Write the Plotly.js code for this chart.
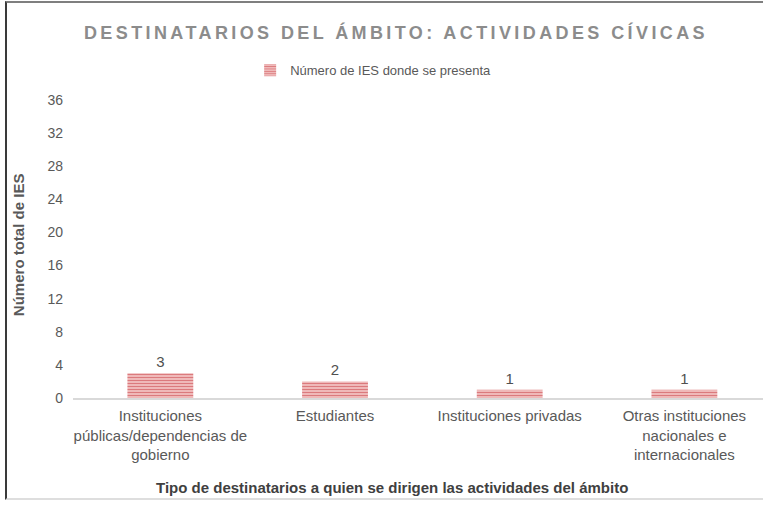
<!DOCTYPE html>
<html>
<head>
<meta charset="utf-8">
<script src="https://cdn.plot.ly/plotly-3.0.1.min.js"></script>
<style>
  html, body { margin: 0; padding: 0; background: #ffffff; overflow: hidden; }
  #frame { position: absolute; left: 5px; top: 1px; width: 758px; height: 495px;
           border-top: 2px solid #7f7f7f; border-left: 2px solid #3a3a3a; border-bottom: 2px solid #dedede; }
  #chart { position: absolute; left: 0; top: 0; width: 763px; height: 506px; }
  .gtitle { letter-spacing: 3.4px; }
</style>
</head>
<body>
<div id="frame"></div>
<div id="chart"></div>
<script>
const categories = [
  "Instituciones<br>públicas/dependencias de<br>gobierno",
  "Estudiantes",
  "Instituciones privadas",
  "Otras instituciones<br>nacionales e<br>internacionales"
];
const values = [3, 2, 1, 1];
const seriesName = "Número de IES donde se presenta";
const yTicks = [0, 4, 8, 12, 16, 20, 24, 28, 32, 36];

const trace = {
  type: "bar",
  x: categories,
  y: values,
  name: seriesName,
  width: 0.377,
  marker: {
    color: "#f2bcbc",
    line: { width: 0 },
    pattern: { shape: "-", fgcolor: "#db7a7d", bgcolor: "#f4c6c6", size: 3, solidity: 0.45 }
  },
  text: values.map(String),
  textposition: "outside",
  textfont: { family: "Liberation Sans, Arial, sans-serif", size: 15, color: "#505050" },
  cliponaxis: false,
  hoverinfo: "none"
};

const layout = {
  width: 763, height: 506,
  margin: { l: 73, r: 0, t: 100, b: 108 },
  paper_bgcolor: "rgba(0,0,0,0)",
  plot_bgcolor: "rgba(0,0,0,0)",
  font: { family: "Liberation Sans, Arial, sans-serif", color: "#595959" },
  title: {
    text: "<b>DESTINATARIOS DEL ÁMBITO: ACTIVIDADES CÍVICAS</b>",
    font: { size: 18, color: "#8c8c8c", family: "Liberation Sans, Arial, sans-serif" },
    x: 0.519, xanchor: "center", xref: "container",
    y: 0.935, yanchor: "middle", yref: "container"
  },
  showlegend: true,
  legend: {
    orientation: "h", x: 0.435, xanchor: "center", y: 1.1, yanchor: "middle",
    font: { size: 13, color: "#595959" }
  },
  xaxis: {
    type: "category",
    range: [-0.5, 3.45],
    showline: true, linecolor: "#d9d9d9", linewidth: 2,
    showgrid: false, zeroline: false, ticks: "",
    tickfont: { size: 15, color: "#595959" },
    ticklabelstandoff: 3
  },
  yaxis: {
    range: [0, 36],
    tickvals: yTicks,
    ticktext: yTicks.map(String),
    showline: false, showgrid: false, zeroline: false, ticks: "",
    tickfont: { size: 14, color: "#595959" },
    ticklabelstandoff: 9
  },
  annotations: [
    {
      text: "<b>Número total de IES</b>", textangle: -90,
      xref: "paper", yref: "paper", x: -0.0797, y: 0.513,
      xanchor: "center", yanchor: "middle", showarrow: false,
      font: { size: 15, color: "#595959" }
    },
    {
      text: "<b>Tipo de destinatarios a quien se dirigen las actividades del ámbito</b>",
      xref: "paper", yref: "paper", x: 0.462, y: -0.299,
      xanchor: "center", yanchor: "middle", showarrow: false,
      font: { size: 15, color: "#404040" }
    }
  ]
};

Plotly.newPlot("chart", [trace], layout, { staticPlot: true, displayModeBar: false });
</script>
</body>
</html>
